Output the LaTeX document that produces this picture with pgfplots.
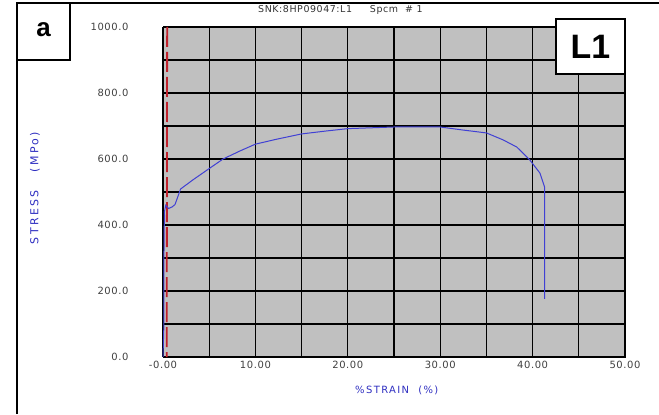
\documentclass[border=0pt]{standalone}
\usepackage{fontspec}
\setmainfont{Liberation Sans}
\newfontfamily\dv[LetterSpace=6]{DejaVu Sans}
\newfontfamily\dvx[LetterSpace=14]{DejaVu Sans}
\newfontfamily\dvy[LetterSpace=22]{DejaVu Sans}
\usepackage{pgfplots}
\pgfplotsset{compat=1.18}
\definecolor{panel}{HTML}{C0C0C0}
\definecolor{curve}{HTML}{4040D4}
\definecolor{lab}{HTML}{2E2EC0}
\definecolor{offset}{HTML}{C0202A}

\begin{document}
\begin{tikzpicture}[x=1bp,y=1bp]
\useasboundingbox (0,0) rectangle (659,414);
% frame
\draw[line width=1.6bp] (17,0) -- (17,411) -- (659,411);
\begin{axis}[
  at={(163bp,57bp)}, anchor=south west,
  width=462bp, height=330bp, scale only axis,
  xmin=0, xmax=50, ymin=0, ymax=1000,
  axis background/.style={fill=panel},
  axis line style={black, line width=1bp},
  xtick={0,10,20,30,40,50},
  xticklabels={-0.00,10.00,20.00,30.00,40.00,50.00},
  minor xtick={5,15,25,35,45},
  ytick={0,200,400,600,800,1000},
  yticklabels={0.0,200.0,400.0,600.0,800.0,1000.0},
  minor ytick={100,300,500,700,900},
  grid=both, major grid style={black, line width=1.1bp},
  minor grid style={black, line width=1.1bp},
  major tick length=0pt, minor tick length=0pt,
  ticklabel style={font=\dv\fontsize{10}{11}\selectfont, text=black!75},
  yticklabel style={xshift=-31bp},
  xticklabel style={yshift=-1bp},
  xlabel={\%STRAIN\ \ (\%)},
  label style={font=\dvx\fontsize{10}{11}\selectfont, text=lab},
  x label style={at={(axis description cs:0.506,-0.1)}, anchor=center},
  clip=false]
\addplot[offset, line width=1.8bp, dash pattern=on 20bp off 5bp] coordinates {(0.45,1000) (0.4,0)};
\addplot[curve, line width=1bp] coordinates {
(0,0) (0.1,100) (0.1,300) (0.15,440) (0.3,460) (0.6,450) (1.0,455) (1.3,462)
(1.9,509) (3.2,536) (5.1,573) (6.5,600) (8.3,624) (10,645) (12.3,660) (15,676)
(17.7,685) (20,692) (25,697) (30,697) (32.4,688) (35,679) (36.8,658) (38.3,636)
(39.7,597) (40.8,557) (41.3,515) (41.3,176)};
\end{axis}
% y label
\node[rotate=90, font=\dvy\fontsize{11}{12}\selectfont, text=lab] at (35,226) {STRESS\ \ \ (MPo)};
% title and panel tags
\node[anchor=west, font=\dv\fontsize{9.5}{10}\selectfont, text=black!80, inner sep=0pt] at (258,404) {SNK:8HP09047:L1\ \ \ \ \ Spcm \ \# 1};
\draw[line width=1.4bp, fill=white] (17,411) rectangle (70,354);
\node[font=\fontsize{26}{28}\bfseries] at (43.5,384) {a};
\draw[line width=1.4bp, fill=white] (556,395) rectangle (625,340);
\node[font=\fontsize{34}{36}\bfseries] at (590.5,367.5) {L1};
\end{tikzpicture}
\end{document}
